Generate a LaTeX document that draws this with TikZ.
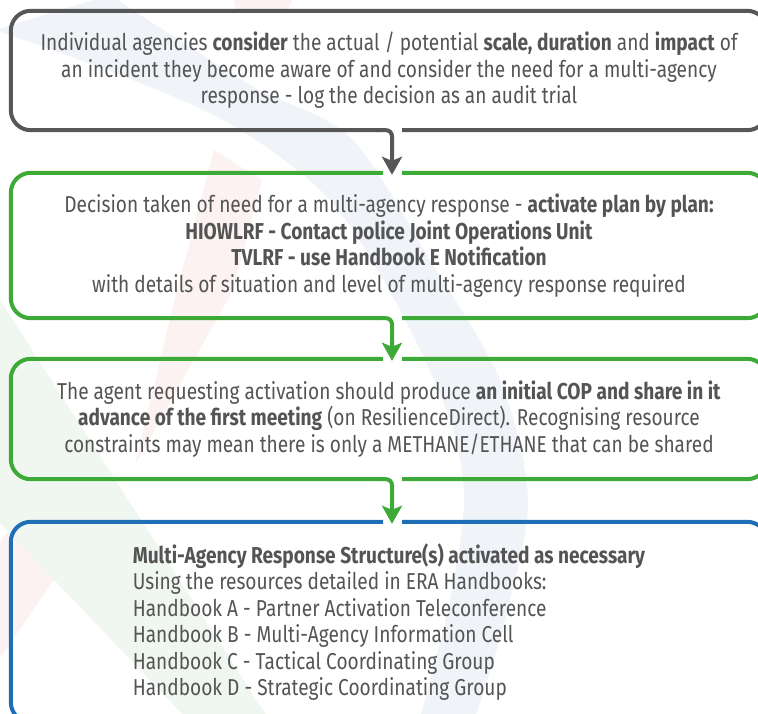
\documentclass[tikz,border=0pt]{standalone}
\usepackage{fontspec}
\setmainfont{Fira Sans}[FakeStretch=0.83]
\usetikzlibrary{arrows.meta}

\definecolor{flowgray}{HTML}{575757}
\definecolor{flowgreen}{HTML}{3DAA37}
\definecolor{flowblue}{HTML}{1F6FB7}
\definecolor{txtgray}{HTML}{545454}
\definecolor{bgblue}{HTML}{F0F4F9}
\definecolor{bgred}{HTML}{FCF2F2}
\definecolor{bggreen}{HTML}{F0F7F1}

\tikzset{
  stepframe/.style={draw=none, rectangle, inner sep=0pt, text=txtgray,
    font=\fontsize{23}{26.5}\selectfont, align=center},
  frame/.style={line width=4pt},
  flowarrow/.style={line width=4pt, rounded corners=6pt,
    -{Stealth[length=18pt, width=20pt, inset=4pt]}},
}

\begin{document}
\begin{tikzpicture}[x=1pt, y=-1pt]
\useasboundingbox (0,0) rectangle (758,713);
\clip (0,0) rectangle (758,713);

% faint logo swooshes in the background
\fill[bgblue] plot[smooth] coordinates {(110,-5) (250,85) (350,137) (430,260) (500,380) (528,500) (505,620) (475,718)}
  -- plot[smooth] coordinates {(420,718) (450,600) (464,500) (450,420) (400,310) (330,200) (232,125) (120,75) (-5,30)}
  -- cycle;
\fill[bgred] (214,150) -- (262,180) -- (233,290) -- (135,465) -- (177,290) -- cycle;
\fill[bgred] (23,513) -- (63,567) -- (-5,665) -- (-5,548) -- cycle;
\fill[bgred] (233,-2) -- (293,-2) -- (288,10) -- (236,10) -- cycle;
\fill[bggreen] (-5,292) -- (268,718) -- (186,718) -- (-5,518) -- cycle;

% step boxes
\node[stepframe, minimum width=756pt, minimum height=119pt] (b1) at (389,70.5)
  {Individual agencies \textbf{consider} the actual / potential \textbf{scale, duration} and \textbf{impact} of\\
   an incident they become aware of and consider the need for a multi-agency\\
   response - log the decision as an audit trial};
\node[stepframe, minimum width=756pt, minimum height=145pt] (b2) at (389,245.5)
  {Decision taken of need for a multi-agency response - \textbf{activate plan by plan:}\\
   \textbf{HIOWLRF - Contact police Joint Operations Unit}\\
   \textbf{TVLRF - use Handbook E Notification}\\
   with details of situation and level of multi-agency response required};
\node[stepframe, minimum width=756pt, minimum height=120pt] (b3) at (389,419)
  {The agent requesting activation should produce \textbf{an initial COP and share in it}\\
   \textbf{advance of the first meeting} (on ResilienceDirect). Recognising resource\\
   constraints may mean there is only a METHANE/ETHANE that can be shared};
\node[stepframe, minimum width=756pt, minimum height=200pt] (b4) at (389,622) {};
\node[stepframe, align=left] (b4text) at (b4.center)
  {\textbf{Multi-Agency Response Structure(s) activated as necessary}\\
   Using the resources detailed in ERA Handbooks:\\
   Handbook A - Partner Activation Teleconference\\
   Handbook B - Multi-Agency Information Cell\\
   Handbook C - Tactical Coordinating Group\\
   Handbook D - Strategic Coordinating Group};

% box outlines, open where the connectors leave and arrive
\draw[frame, flowgray, rounded corners=20pt] ([xshift=13pt]b1.south) -- (b1.south east) -- (b1.north east)
  -- (b1.north west) -- (b1.south west) -- ([xshift=-10pt]b1.south);

\draw[frame, flowgreen, rounded corners=20pt] ([xshift=13pt]b2.south) -- (b2.south east) -- (b2.north east)
  -- ([xshift=13pt]b2.north);
\draw[frame, flowgreen, rounded corners=20pt] ([xshift=-6pt]b2.north) -- (b2.north west) -- (b2.south west)
  -- ([xshift=-10pt]b2.south);

\draw[frame, flowgreen, rounded corners=20pt] ([xshift=13pt]b3.south) -- (b3.south east) -- (b3.north east)
  -- ([xshift=13pt]b3.north);
\draw[frame, flowgreen, rounded corners=20pt] ([xshift=-6pt]b3.north) -- (b3.north west) -- (b3.south west)
  -- ([xshift=-10pt]b3.south);

\draw[frame, flowblue, rounded corners=20pt] ([xshift=13pt]b4.north) -- (b4.north east) -- (b4.south east)
  -- (b4.south west) -- (b4.north west) -- ([xshift=-6pt]b4.north);

% connectors
\draw[flowarrow, flowgray] ([xshift=-12pt]b1.south) -- ([xshift=3pt]b1.south) -- ([xshift=3pt, yshift=-2pt]b2.north);
\draw[flowarrow, flowgreen] ([xshift=-12pt]b2.south) -- ([xshift=3pt]b2.south) -- ([xshift=3pt, yshift=-2pt]b3.north);
\draw[flowarrow, flowgreen] ([xshift=-12pt]b3.south) -- ([xshift=3pt]b3.south) -- ([xshift=3pt, yshift=-2pt]b4.north);
\end{tikzpicture}
\end{document}
